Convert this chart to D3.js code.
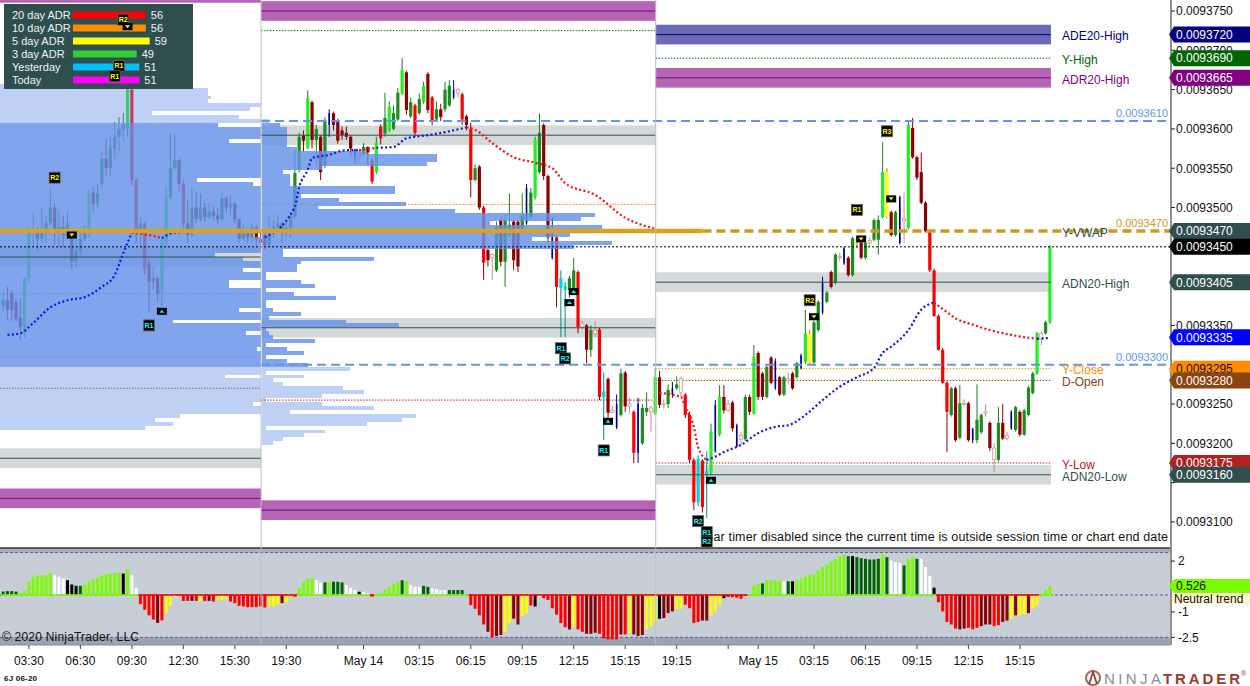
<!DOCTYPE html>
<html>
<head>
<meta charset="utf-8">
<script src="https://cdn.jsdelivr.net/npm/d3@7"></script>
<style>
body { margin: 0; background: #fff; }
svg { display: block; font-family: Arial, "Liberation Sans", sans-serif; }
</style>
</head>
<body>
<svg id="chart" width="1250" height="686"></svg>
<script>
// prices kept as (price - 0.0093) in units of 0.0000001, so 450 means 0.0093450
// bars: [open, high, low, close], 15 minute bars
var session1Bars = [
    [375,392,368,382],[382,399,357,370],[391,395,355,369],[380,384,355,358],[360,385,331,348],
    [340,412,335,410],[410,475,405,468],[468,494,450,472],[472,475,446,460],[460,500,455,470],
    [470,490,455,480],[480,525,478,500],[500,505,452,470],[470,495,450,475],[475,490,450,465],
    [465,495,460,480],[462,466,422,432],[432,462,424,445],[445,472,440,460],[460,478,456,470],
    [468,522,462,519],[519,526,494,505],[505,530,500,518],[530,570,525,562],[562,588,540,550],
    [550,590,540,575],[575,609,562,590],[590,615,572,600],[600,620,585,605],[600,662,590,650],
    [650,660,528,535],[535,537,455,470],[470,488,450,480],[480,482,415,422],[430,435,366,405],
    [405,425,395,410],[410,412,380,390],[395,460,374,455],[455,526,450,513],[513,595,510,550],
    [550,595,548,560],[560,562,520,530],[530,535,470,480],[480,510,455,465],[465,525,462,500],
    [500,520,480,485],[485,518,482,500],[500,506,482,488],[488,505,485,495],[495,502,484,490],
    [490,500,480,485],[485,518,484,512],[512,514,494,500],[500,515,490,505],[505,506,480,485],
    [485,486,455,460],[460,478,458,470],[470,475,455,462],[462,480,455,475],[475,478,452,460],
    [460,472,444,455]
];
var session2Bars = [
    [465,472,446,452],[452,488,450,470],[470,484,462,475],[475,491,472,480],[480,482,455,468],
    [468,484,462,474],[474,494,462,490],[488,573,486,544],[549,595,545,590],[592,598,571,585],
    [576,649,574,639],[634,636,575,586],[586,605,554,600],[590,592,535,545],[554,615,550,611],
    [605,625,590,620],[620,622,598,605],[611,613,581,585],[598,603,586,592],[595,603,586,590],
    [590,592,566,575],[573,575,556,565],[565,575,558,568],[568,582,566,577],[577,578,555,570],
    [560,562,530,533],[545,590,543,583],[603,606,580,588],[594,646,590,614],[598,635,596,628],
    [600,630,598,620],[612,652,610,646],[645,690,643,675],[672,674,618,624],[616,640,614,634],
    [630,632,590,595],[620,645,618,638],[634,660,632,655],[670,672,620,624],[640,642,605,611],
    [612,635,610,625],[625,632,610,615],[625,660,622,650],[630,662,628,655],[640,662,638,650],
    [650,652,640,645],[644,646,605,612],[616,618,598,605],[600,608,513,535],[535,555,533,550],
    [552,554,497,500],[500,502,408,430],[446,448,425,433],[440,442,408,436],[420,482,418,475],
    [484,486,425,431],[431,490,399,484],[465,518,462,478],[482,484,420,433],[482,484,418,425],
    [470,518,468,490],[480,530,478,525],[488,525,486,519],[513,590,510,586],[545,620,543,595],
    [605,607,535,540],[540,542,455,462],[436,488,434,470],[462,464,373,399],[398,420,335,410],
    [400,405,335,395],[395,413,385,410],[395,436,393,420],[418,420,340,348],[348,356,345,352],
    [350,352,302,319],[319,350,310,344],[344,355,335,340],[345,347,255,259],[259,290,204,266],
    [282,284,230,239],[239,248,238,242],[220,262,218,250],[236,295,234,289],[290,292,240,247],
    [247,258,238,250],[240,242,175,188],[188,258,175,250],[200,250,198,245],[240,265,235,245],
    [245,248,215,240],[238,296,236,284]
];
var session3Bars = [
    [284,292,245,249],[249,256,244,250],[250,275,245,268],[262,278,258,270],[270,285,268,275],
    [282,285,260,265],[262,264,232,236],[236,240,175,179],[179,181,115,125],[125,185,120,180],
    [178,180,112,119],[165,190,105,160],[163,225,160,215],[190,255,188,249],[211,274,209,259],
    [259,274,238,242],[242,255,240,250],[252,254,215,219],[196,225,195,223],[205,215,198,210],
    [205,262,203,259],[259,262,236,240],[238,325,236,310],[315,317,255,259],[289,291,255,259],
    [259,300,257,297],[309,311,275,277],[270,308,268,305],[284,286,260,262],[262,286,260,284],
    [280,290,275,282],[289,291,268,270],[284,304,282,302],[296,314,294,312],[303,370,301,340],
    [303,345,300,340],[303,356,300,354],[344,382,342,380],[366,412,364,405],[380,394,378,392],
    [418,420,397,399],[404,442,402,440],[436,442,432,438],[429,450,427,448],[436,438,412,414],
    [414,463,412,461],[455,462,448,460],[455,457,434,436],[436,456,434,455],[455,462,450,458],
    [459,486,457,484],[459,490,440,484],[488,583,486,545],[488,550,486,545],[494,496,463,465],
    [465,496,463,494],[455,515,453,513],[483,519,455,486],[474,611,472,605],[601,614,562,564],
    [564,566,535,538],[545,570,504,506],[506,508,468,470],[469,471,418,420],[420,422,361,362],
    [362,364,318,319],[319,321,276,277],[277,279,189,240],[236,272,234,270],[270,272,202,204],
    [207,274,205,251],[251,256,247,250],[251,253,202,204],[204,219,200,219],[204,275,200,230],
    [214,238,212,236],[238,250,234,240],[226,228,190,194],[194,200,163,179],[179,246,177,226],
    [226,250,204,206],[206,215,204,210],[219,242,217,240],[217,248,215,246],[240,242,209,211],
    [211,244,209,242],[236,273,234,271],[264,291,262,289],[289,342,287,340],[340,342,325,332],
    [340,356,338,354],[354,452,352,450]
];
// paint-bar codes: G lime, g green, R red, r dark red, c cyan, y yellow, b navy, w doji
var session2Codes = "rgggrggggrGrgrgbrrrrrbwgrRGRgGggGrgRgGrRgrggbwRrRgrRrwgrggrrgbgGgrrbRccggRwrgwRcrwbgrwRbggwG";
var session3Codes = "rwgbgwRRRcRcGbGrwrbwgrGrrgrbrgwrgbGyggbgrgwbrgyrgwggGyrgbwGrrrrRRRRRgrgwrbggwrwgrwbgrgggGwgG";

// momentum histogram (lower panel)
var hist1 = [0.20,0.23,0.23,0.20,0.10,0.23,0.78,1.07,1.16,1.16, 1.16,1.30,1.16,1.07,0.97,0.87,0.62,0.54,0.54,0.62,
    0.78,0.93,1.00,1.16,1.20,1.26,1.30,1.30,1.26,1.50, 1.16,0.43,-0.54,-0.87,-1.20,-1.45,-1.65,-1.50,-1.12,-0.62,
    -0.10,-0.03,-0.35,-0.35,-0.35,-0.35,-0.35,-0.35,-0.35,-0.39, -0.29,-0.29,-0.23,-0.39,-0.48,-0.64,-0.68,-0.72,-0.72,-0.72,
    -0.68];
var hist2 = [-0.74,-0.68,-0.68,-0.58,-0.48,-0.43,-0.19,-0.10,0.39,0.78, 0.97,1.00,0.87,0.74,0.74,0.74,0.78,0.78,0.74,0.58,
    0.43,0.29,0.19,0.16,0.10,-0.10,0.03,0.10,0.33,0.48, 0.62,0.78,0.87,0.83,0.58,0.48,0.48,0.54,0.48,0.39,
    0.35,0.29,0.29,0.29,0.29,0.29,0.29,0.04,-0.60,-0.81, -1.20,-1.74,-2.17,-2.48,-2.42,-2.36,-2.17,-1.65,-1.40,-1.74,
    -1.26,-1.07,-0.62,-0.68,-0.10,-0.19,-0.29,-0.78,-1.16,-1.65, -1.90,-2.03,-1.90,-2.03,-2.17,-2.29,-2.29,-2.23,-2.29,-2.56,
    -2.62,-2.62,-2.62,-2.33,-2.33,-2.23,-2.33,-2.42,-2.36,-2.03, -1.84,-1.59];
var hist3 = [-1.40,-1.36,-1.07,-0.97,-0.81,-0.81,-0.58,-0.78,-1.65,-1.59, -1.51,-1.51,-1.20,-0.97,-0.58,-0.19,-0.10,-0.14,-0.16,-0.23,
    -0.04,0.04,0.54,0.68,0.68,0.87,0.87,0.87,0.81,0.81, 0.81,0.81,0.87,0.97,1.07,1.20,1.20,1.45,1.65,1.78,
    1.98,2.13,2.29,2.36,2.29,2.29,2.23,2.17,2.13,2.09, 2.09,2.13,2.40,2.23,2.03,1.94,1.90,1.74,2.13,2.23,
    2.13,2.13,1.65,1.12,0.43,-0.43,-0.97,-1.59,-1.74,-1.98, -2.03,-1.98,-1.94,-2.03,-1.94,-1.84,-1.74,-1.74,-1.84,-1.78,
    -1.59,-1.51,-1.40,-1.20,-1.20,-1.12,-1.07,-0.81,-0.62,0.10, 0.29,0.526];
// L lawn green, D dark green, W white, K black, R red, r dark red, Y yellow
var histCodes1 = "DDDDLLLLLLLLWWWKKKDLLLLLLLLLKLWWRRRRrRYYWRRRrRYRrRYYYRRRRRRRR";
var histCodes2 = "RYYYrYYRLLLLWWDLDDDWWWKWWRLLLLLLDLWWWDDWWWWDDDDLRRRRrRrrYYrrYYRKWRRRRRRrYRRrrrRRRRRrRYrrrYYY";
var histCodes3 = "KrrrYYRRRRrrYYYKKRRRRLLLDLLLLWDKLLLLLLLLLLLLDKDDDDDDLDWWWDLLDWWWKRRRRRrrRRRrrrRRrrYrYYrYYLLL";

// time axis
var timeLabels = ["03:30","06:30","09:30","12:30","15:30","19:30","May 14","03:15","06:15","09:15","12:15","15:15",
    "19:15","May 15","03:15","06:15","09:15","12:15","15:15"];
var timeLabelBars = [6,18,30,42,54,66,84,97,109,121,133,145,157,176,189,201,213,225,237];
var minorTickBars = [78,169];

// price axis labels (the ones under price boxes are not drawn)
var priceTicks = [100,200,250,350,500,550,600,650,700,750];
var indTicks = [2, -1, -2.5];

// ADR legend
var legendLabels = ["20 day ADR","10 day ADR","5 day ADR","3 day ADR","Yesterday","Today"];
var legendValues = [56,56,59,49,51,51];
var legendColors = ["#ff0000","#ff8c00","#ffff00","#32cd32","#00bfff","#ff00ff"];

// volume profiles, 5-tick rows from the top price down
var profile1Top = 655;
var profile1Vols = [84,97,97,98,97,118,109,81,106,121, 100,124,119,122,103,127,125,131,128,126,
    124,121,123,118,94,110,119,125,128,131, 134,129,136,138,133,140,136,132,110,127,
    129,124,122,99,107,121,118,107,119,123, 103,103,120,117,121,118,116,106,119,121,
    87,118,122,108,117,121,119,111,118,121, 117,120,116,119,102,121,118,120,117,119,
    116,110,118,121,89,82,87,79];
var profile2Top = 610;
var profile2Vols = [2,5,7,7,7,7,7,10,30,50, 50,47,17,6,8,8,8,38,38,11,
    22,41,16,55,95,91,65,97,62,88, 77,100,89,6,6,32,11,10,10,1,
    1,11,15,1,9,21,1,1,3,11, 2,24,39,1,2,3,15,1,7,12,
    1,7,13,25,1,12,3,6,23,29, 17,1,17,32,8,44,40,30,1,18,
    12,6,3];
var valueAreaHigh = 605, valueAreaLow = 300;

// session VWAP, colour per segment (b above, r below)
var vwap1Bars = [1,4,7,11,15,19,23,26,28,30,34,37,40,46,60];
var vwap1Vals = [338,340,353,373,382,386,399,414,442,468,465,461,468,469,469];
var vwap1Cols = "bbbbbbbbbrrbbbb";
var vwap2Bars = [61,68,69,71,72,76,80,83,87,91,94,99,104,108,110,114,119,124,128,131,138,145,152];
var vwap2Vals = [462,501,526,548,563,567,573,573,576,577,588,592,597,602,599,582,564,557,550,531,516,487,473];
var vwap2Cols = "bbbbbbbrbbbbbrrrrrrrrrr";
var vwap3Bars = [153,158,159,161,162,164,166,168,172,176,180,183,187,191,195,199,203,205,207,211,214,217,220,222,226,230,234,238,241,244];
var vwap3Vals = [264,259,246,221,195,179,183,189,198,213,221,223,236,255,272,284,296,315,323,344,370,379,367,359,351,344,339,335,333,334];
var vwap3Cols = "rrrrrbbbbbbbbbbbbbbbbrrrrrrrbb";

// current session levels and their price boxes
var levelNames  = ["ADE20-High","Y-High","ADR20-High","Y-VWAP","","ADN20-High","","Y-Close","D-Open","Y-Low","ADN20-Low"];
var levelValues = [720,690,665,470,450,405,335,295,280,175,160];
var levelKinds  = ["band","dot","band","none","none","band","none","dot","dot","dot","band"];
var levelColors = ["#000080","#006400","#800080","#2f4f4f","#000000","#2f4f4f","#0000ff","#ff8c00","#8b4513","#b22222","#2f4f4f"];
// levels of the two earlier sessions
var session1LevelValues = [773,437,390,310,270,181,130];
var session1LevelKinds  = ["band","band","dot","dot","dot","band","band"];
var session1LevelColors = ["#800080","#2f4f4f","#5f8fa0","#8a8a8a","#a0522d","#2f4f4f","#800080"];
var session2LevelValues = [750,725,592,504,347,255,115];
var session2LevelKinds  = ["band","dot","band","dot","band","dot","band"];
var session2LevelColors = ["#800080","#008000","#2f4f4f","#ff8c00","#2f4f4f","#b22222","#800080"];
var swingLevels = [610,300];
var yesterdayVwap = 470, lastPrice = 450;

// pivot markers
var markerBars   = [12,16,28,29,27,26,34,37,133,132,130,131,140,141,162,164,164,165,188,189,199,200,207,206];
var markerPrices = [538,465,739,730,680,667,350,368,393,379,321,308,191,228,101,87,75,153,382,361,497,460,511,597];
var markerTexts  = ["R2","v","R2","v","R1","R1","R1","^","^","^","R1","R2","R1","^","R2","R1","R2","^","R2","v","R1","v","v","R3"];
var markerTops   = [1,1,1,1,1,1,0,0,0,0,0,0,0,0,0,0,0,0,1,1,1,1,1,1];

var W = 1170, priceBottom = 547, indTop = 548, indBottom = 645;

var svg = d3.select("#chart");
var x = d3.scaleLinear().domain([0, 244]).range([3.16, 1049.92]);
var y = d3.scaleLinear().domain([68.1, 764]).range([priceBottom, 0]);
var yInd = d3.scaleLinear().domain([-2.95, 2.77]).range([indBottom, indTop]);
var volW = d3.scaleLinear().domain([0, 100]).range([0, 350]);
var legendW = d3.scaleLinear().domain([0, 100]).range([0, 130]);
var fmt = function(v) { return ((93000 + v) / 1e7).toFixed(7); };

var sep1 = x(60) + 0.5, sep2 = x(152) + 0.5, sessEnd = x(244) + 1;

var bandFill = {"#800080": "#b565b5", "#000080": "#6b6bb5", "#2f4f4f": "#d3dad9"};
var candleFill = {G:"#22ee22", g:"#1e8c1e", R:"#ff0000", r:"#8b0000", c:"#00d8d8", y:"#ffff00", b:"#000090", w:"#fff4f4"};
var wickColor = {G:"#1e7d1e", g:"#1e7d1e", R:"#8b0000", r:"#8b0000", c:"#008b8b", y:"#9a8a00", b:"#000090", w:"#c09090"};
var histFill = {L:"#7cfc00", D:"#006400", W:"#ffffff", K:"#000000", R:"#ff0000", r:"#8b0000", Y:"#ffff00"};

var defs = svg.append("defs");
defs.append("clipPath").attr("id", "priceClip").append("rect").attr("width", W).attr("height", priceBottom);
defs.append("clipPath").attr("id", "sess1Clip").append("rect").attr("width", sep1).attr("height", priceBottom);

// ---------- lower panel ----------
var ind = svg.append("g");
ind.append("rect").attr("x", 0).attr("y", indTop).attr("width", W).attr("height", indBottom - indTop).attr("fill", "#c8ced6");
ind.append("rect").attr("x", 0).attr("y", indTop).attr("width", W).attr("height", yInd(2.5) - indTop).attr("fill", "#a9b0bb");
ind.append("rect").attr("x", 0).attr("y", yInd(-2.5)).attr("width", W).attr("height", indBottom - yInd(-2.5)).attr("fill", "#9ba4b1");
[2.5, 0, -2.5].forEach(function(v) {
    ind.append("line").attr("x1", 0).attr("x2", W).attr("y1", yInd(v)).attr("y2", yInd(v))
        .attr("stroke", "#5a5a9a").attr("stroke-width", 1).attr("stroke-dasharray", "3,2");
});

var histData = [];
[[hist1, histCodes1, 0], [hist2, histCodes2, 61], [hist3, histCodes3, 153]].forEach(function(s) {
    s[0].forEach(function(v, k) { histData.push({i: s[2] + k, v: v, code: s[1][k]}); });
});
ind.selectAll("rect.h").data(histData).enter().append("rect").attr("class", "h")
    .attr("x", function(d) { return x(d.i) - 1.5; })
    .attr("width", 3)
    .attr("y", function(d) { return Math.min(yInd(0), yInd(d.v)); })
    .attr("height", function(d) { return Math.max(0.5, Math.abs(yInd(d.v) - yInd(0))); })
    .attr("fill", function(d) { return histFill[d.code]; });
ind.selectAll("line.z").data(histData).enter().append("line").attr("class", "z")
    .attr("x1", function(d) { return x(d.i) - 2.2; })
    .attr("x2", function(d) { return x(d.i) + 2.2; })
    .attr("y1", yInd(0)).attr("y2", yInd(0))
    .attr("stroke", function(d) { return d.v >= 0 ? "#7cfc00" : "#ff0000"; })
    .attr("stroke-width", 1.6);
ind.append("line").attr("x1", 0).attr("x2", W).attr("y1", indTop).attr("y2", indTop).attr("stroke", "#333").attr("stroke-width", 1.5);
ind.append("line").attr("x1", 0).attr("x2", W).attr("y1", indBottom).attr("y2", indBottom).attr("stroke", "#888").attr("stroke-width", 1);
ind.append("text").attr("x", 2).attr("y", 641).attr("font-size", 12).attr("fill", "#111")
    .attr("textLength", 137).text("\u00a9 2020 NinjaTrader, LLC");

// ---------- price panel ----------
var plot = svg.append("g").attr("clip-path", "url(#priceClip)");

function drawLevels(g, vals, kinds, colors, x0, x1) {
    vals.forEach(function(v, k) {
        if (kinds[k] === "band") {
            g.append("rect").attr("x", x0).attr("width", x1 - x0)
                .attr("y", y(v + 12.5)).attr("height", y(v - 12.5) - y(v + 12.5))
                .attr("fill", bandFill[colors[k]]);
        } else if (kinds[k] === "dot") {
            g.append("line").attr("x1", x0).attr("x2", x1).attr("y1", y(v)).attr("y2", y(v))
                .attr("stroke", colors[k]).attr("stroke-width", 1).attr("stroke-dasharray", "1.5,1.5");
        }
    });
}
function drawBandLines(g, vals, kinds, colors, x0, x1) {
    vals.forEach(function(v, k) {
        if (kinds[k] === "band") {
            g.append("line").attr("x1", x0).attr("x2", x1).attr("y1", y(v)).attr("y2", y(v))
                .attr("stroke", colors[k]).attr("stroke-width", 1);
        }
    });
}
var levelsG = plot.append("g");
drawLevels(levelsG, session1LevelValues, session1LevelKinds, session1LevelColors, 0, sep1);
drawLevels(levelsG, session2LevelValues, session2LevelKinds, session2LevelColors, sep1, sep2);
drawLevels(levelsG, levelValues, levelKinds, levelColors, sep2, sessEnd);

// session separators
[sep1, sep2].forEach(function(sx) {
    svg.append("line").attr("x1", sx).attr("x2", sx).attr("y1", 0).attr("y2", indBottom)
        .attr("stroke", "#bdbdbd").attr("stroke-width", 1);
});

// candles
var bars = [];
function ruleCode(b) {
    var d = b[3] - b[0];
    return d >= 0 ? (d > 40 ? "G" : "g") : (d < -40 ? "R" : "r");
}
[[session1Bars, null, 0], [session2Bars, session2Codes, 61], [session3Bars, session3Codes, 153]].forEach(function(s) {
    s[0].forEach(function(b, k) {
        bars.push({i: s[2] + k, o: b[0], h: b[1], l: b[2], c: b[3], code: s[1] ? s[1][k] : ruleCode(b)});
    });
});
var candles = plot.append("g").selectAll("g").data(bars).enter().append("g");
candles.append("line")
    .attr("x1", function(d) { return x(d.i); }).attr("x2", function(d) { return x(d.i); })
    .attr("y1", function(d) { return y(d.h); }).attr("y2", function(d) { return y(d.l); })
    .attr("stroke", function(d) { return wickColor[d.code]; }).attr("stroke-width", 1);
candles.append("rect")
    .attr("x", function(d) { return x(d.i) - (d.code === "b" ? 0.8 : 1.6); })
    .attr("width", function(d) { return d.code === "b" ? 1.6 : 3.2; })
    .attr("y", function(d) { return y(Math.max(d.o, d.c)); })
    .attr("height", function(d) { return Math.max(1, Math.abs(y(d.o) - y(d.c))); })
    .attr("fill", function(d) { return candleFill[d.code]; })
    .attr("stroke", function(d) { return d.code === "w" ? "#d09090" : "none"; })
    .attr("stroke-width", 0.7);

// volume profiles, rows snapped to whole pixels so they touch without seams
function drawProfile(g, top, vols, x0) {
    var rowTop = function(k) { return Math.round(y(top - 5 * k + 2.5)); };
    g.selectAll("rect").data(vols).enter().append("rect")
        .attr("x", Math.round(x0))
        .attr("y", function(v, k) { return rowTop(k); })
        .attr("height", function(v, k) { return rowTop(k + 1) - rowTop(k); })
        .attr("width", function(v) { return Math.round(volW(v)); })
        .attr("fill", "rgb(100,145,232)")
        .attr("shape-rendering", "crispEdges")
        .attr("fill-opacity", function(v, k) {
            var p = top - 5 * k;
            return (p <= valueAreaHigh && p >= valueAreaLow) ? 0.82 : 0.42;
        });
}
drawProfile(plot.append("g").attr("clip-path", "url(#sess1Clip)"), profile1Top, profile1Vols, x(-31) - 2);
drawProfile(plot.append("g"), profile2Top, profile2Vols, sep1 + 1);

drawBandLines(plot, session1LevelValues, session1LevelKinds, session1LevelColors, 0, sep1);
drawBandLines(plot, session2LevelValues, session2LevelKinds, session2LevelColors, sep1, sep2);
drawBandLines(plot, levelValues, levelKinds, levelColors, sep2, sessEnd);

// VWAP
var vwapLine = d3.line().x(function(d) { return x(d[0]); }).y(function(d) { return y(d[1]); }).curve(d3.curveMonotoneX);
function drawVwap(bs, vs, cols) {
    var runs = [], cur = null;
    for (var k = 0; k < bs.length; k++) {
        if (!cur || cur.col !== cols[k]) {
            if (cur) cur.pts.push([bs[k], vs[k]]);
            cur = {col: cols[k], pts: []};
            runs.push(cur);
        }
        cur.pts.push([bs[k], vs[k]]);
    }
    runs.forEach(function(r) {
        if (r.pts.length < 2) return;
        plot.append("path").attr("d", vwapLine(r.pts)).attr("fill", "none")
            .attr("stroke", r.col === "b" ? "#1414e0" : "#ee1515")
            .attr("stroke-width", 2.2).attr("stroke-dasharray", "2,2.4");
    });
}
drawVwap(vwap1Bars, vwap1Vals, vwap1Cols);
drawVwap(vwap2Bars, vwap2Vals, vwap2Cols);
drawVwap(vwap3Bars, vwap3Vals, vwap3Cols);

// level names on the right of the current session
svg.selectAll("text.lvl").data(levelNames).enter().append("text").attr("class", "lvl")
    .attr("x", 1062).attr("y", function(d, k) { return y(levelValues[k]) + 1.5; }).attr("dy", "0.36em")
    .attr("font-size", 12).attr("fill", function(d, k) { return levelColors[k]; })
    .text(function(d) { return d; });

// yesterday's VWAP, last price and swing lines
plot.append("line").attr("x1", 0).attr("x2", x(163)).attr("y1", y(yesterdayVwap)).attr("y2", y(yesterdayVwap))
    .attr("stroke", "#d9a21f").attr("stroke-width", 4.5);
plot.append("line").attr("x1", x(163)).attr("x2", W).attr("y1", y(yesterdayVwap)).attr("y2", y(yesterdayVwap))
    .attr("stroke", "#cc9a22").attr("stroke-width", 3.5).attr("stroke-dasharray", "9,5");
svg.append("text").attr("x", 1168).attr("y", y(yesterdayVwap) - 4).attr("text-anchor", "end")
    .attr("font-size", 11).attr("fill", "#cc9a22").text(fmt(yesterdayVwap));
plot.append("line").attr("x1", 0).attr("x2", W).attr("y1", y(lastPrice)).attr("y2", y(lastPrice))
    .attr("stroke", "#000").attr("stroke-width", 1).attr("stroke-dasharray", "2,2");
swingLevels.forEach(function(v) {
    plot.append("line").attr("x1", sep1).attr("x2", W).attr("y1", y(v)).attr("y2", y(v))
        .attr("stroke", "#6495ed").attr("stroke-width", 2).attr("stroke-dasharray", "9,5");
    svg.append("text").attr("x", 1168).attr("y", y(v) - 4).attr("text-anchor", "end")
        .attr("font-size", 11).attr("fill", "#6495ed").text(fmt(v));
});

svg.append("text").attr("x", 1168).attr("y", 541).attr("text-anchor", "end").attr("font-size", 12.5).attr("fill", "#111")
    .attr("textLength", 463).text("Bar timer disabled since the current time is outside session time or chart end date");

// ADR legend
var leg = svg.append("g");
leg.append("rect").attr("x", 4).attr("y", 4).attr("width", 189).attr("height", 85).attr("fill", "#2f4f4f");
legendLabels.forEach(function(name, k) {
    var cy = 15 + k * 13;
    leg.append("text").attr("x", 12).attr("y", cy).attr("dy", "0.35em").attr("font-size", 11).attr("fill", "#eef2f2").text(name);
    leg.append("rect").attr("x", 73).attr("y", cy - 3.5).attr("width", legendW(legendValues[k])).attr("height", 7).attr("fill", legendColors[k]);
    leg.append("text").attr("x", 73 + legendW(legendValues[k]) + 5).attr("y", cy).attr("dy", "0.35em")
        .attr("font-size", 11).attr("fill", "#eef2f2").text(legendValues[k]);
});

// markers
var mk = svg.append("g");
markerTexts.forEach(function(t, k) {
    var cx = x(markerBars[k]), cy = y(markerPrices[k]);
    var col = markerTops[k] ? "#ffff00" : "#00ffff";
    if (t === "^" || t === "v") {
        mk.append("rect").attr("x", cx - 5).attr("y", cy - 3.5).attr("width", 10).attr("height", 7).attr("fill", "#000");
        var p = t === "^" ? [[cx - 2.5, cy + 1.5], [cx + 2.5, cy + 1.5], [cx, cy - 1.5]] : [[cx - 2.5, cy - 1.5], [cx + 2.5, cy - 1.5], [cx, cy + 1.5]];
        mk.append("path").attr("d", "M" + p.join("L") + "Z").attr("fill", col);
    } else {
        mk.append("rect").attr("x", cx - 5.5).attr("y", cy - 5.5).attr("width", 11).attr("height", 11)
            .attr("fill", "#000").attr("stroke", "#666").attr("stroke-width", 0.8);
        mk.append("text").attr("x", cx).attr("y", cy).attr("dy", "0.35em").attr("text-anchor", "middle")
            .attr("font-size", 7).attr("font-weight", "bold").attr("fill", col).text(t);
    }
});

// ---------- axes ----------
svg.append("line").attr("x1", W + 1).attr("x2", W + 1).attr("y1", 0).attr("y2", indBottom).attr("stroke", "#222");
d3.range(100, 751, 50).forEach(function(v) {
    svg.append("line").attr("x1", W + 1).attr("x2", W + 5).attr("y1", y(v)).attr("y2", y(v)).attr("stroke", "#222");
});
priceTicks.forEach(function(v) {
    svg.append("text").attr("x", W + 6).attr("y", y(v)).attr("dy", "0.36em").attr("font-size", 12).attr("fill", "#111").text(fmt(v));
});
[2, 0.5, -1, -2.5].forEach(function(v) {
    svg.append("line").attr("x1", W + 1).attr("x2", W + 5).attr("y1", yInd(v)).attr("y2", yInd(v)).attr("stroke", "#222");
});
indTicks.forEach(function(v) {
    svg.append("text").attr("x", W + 8).attr("y", yInd(v)).attr("dy", "0.36em").attr("font-size", 12).attr("fill", "#111").text(v);
});

// price boxes
function priceBox(cy, fill, textFill, label, half) {
    svg.append("path").attr("d", "M" + (W - 1) + "," + cy + "L" + (W + 4) + "," + (cy - half) + "L1250," + (cy - half) +
        "L1250," + (cy + half) + "L" + (W + 4) + "," + (cy + half) + "Z").attr("fill", fill);
    svg.append("text").attr("x", W + 6).attr("y", cy).attr("dy", "0.36em").attr("font-size", 12)
        .attr("fill", textFill).text(label);
}
levelValues.forEach(function(v, k) {
    priceBox(y(v), levelColors[k], levelColors[k] === "#ff8c00" ? "#111" : "#fff", fmt(v), 8);
});
var lastHist = hist3[hist3.length - 1];
svg.append("rect").attr("x", W + 2).attr("y", yInd(lastHist) + 7).attr("width", 78).attr("height", 11).attr("fill", "#fff8d0");
svg.append("text").attr("x", W + 4).attr("y", yInd(lastHist) + 13).attr("dy", "0.36em").attr("font-size", 12).attr("fill", "#111").text("Neutral trend");
priceBox(yInd(lastHist), "#7cfc00", "#111", lastHist.toFixed(3), 7);

// time axis
timeLabelBars.concat(minorTickBars).forEach(function(b) {
    svg.append("line").attr("x1", x(b)).attr("x2", x(b)).attr("y1", indBottom).attr("y2", indBottom + 4).attr("stroke", "#444");
});
timeLabels.forEach(function(t, k) {
    svg.append("text").attr("x", x(timeLabelBars[k])).attr("y", 665).attr("text-anchor", "middle")
        .attr("font-size", 12).attr("fill", "#111").text(t);
});
svg.append("text").attr("x", 4).attr("y", 681).attr("font-size", 8).attr("font-weight", "bold").attr("fill", "#111")
    .attr("textLength", 33).text("6J 06-20");

// NinjaTrader logo
var logo = svg.append("g");
logo.append("circle").attr("cx", 1093).attr("cy", 678).attr("r", 7).attr("fill", "none").attr("stroke", "#9a7060").attr("stroke-width", 2);
logo.append("path").attr("d", "M1089,684 L1093,672 L1097,684").attr("fill", "none").attr("stroke", "#a0392b").attr("stroke-width", 1.8);
logo.append("text").attr("x", 1104).attr("y", 684).attr("font-size", 15).attr("fill", "#8c8c8c").attr("textLength", 57).text("NINJA");
logo.append("text").attr("x", 1163).attr("y", 684).attr("font-size", 15).attr("font-weight", "bold").attr("fill", "#a0392b").attr("textLength", 77).text("TRADER");
logo.append("text").attr("x", 1241).attr("y", 676).attr("font-size", 7).attr("fill", "#a0392b").text("\u00ae");
</script>
</body>
</html>
